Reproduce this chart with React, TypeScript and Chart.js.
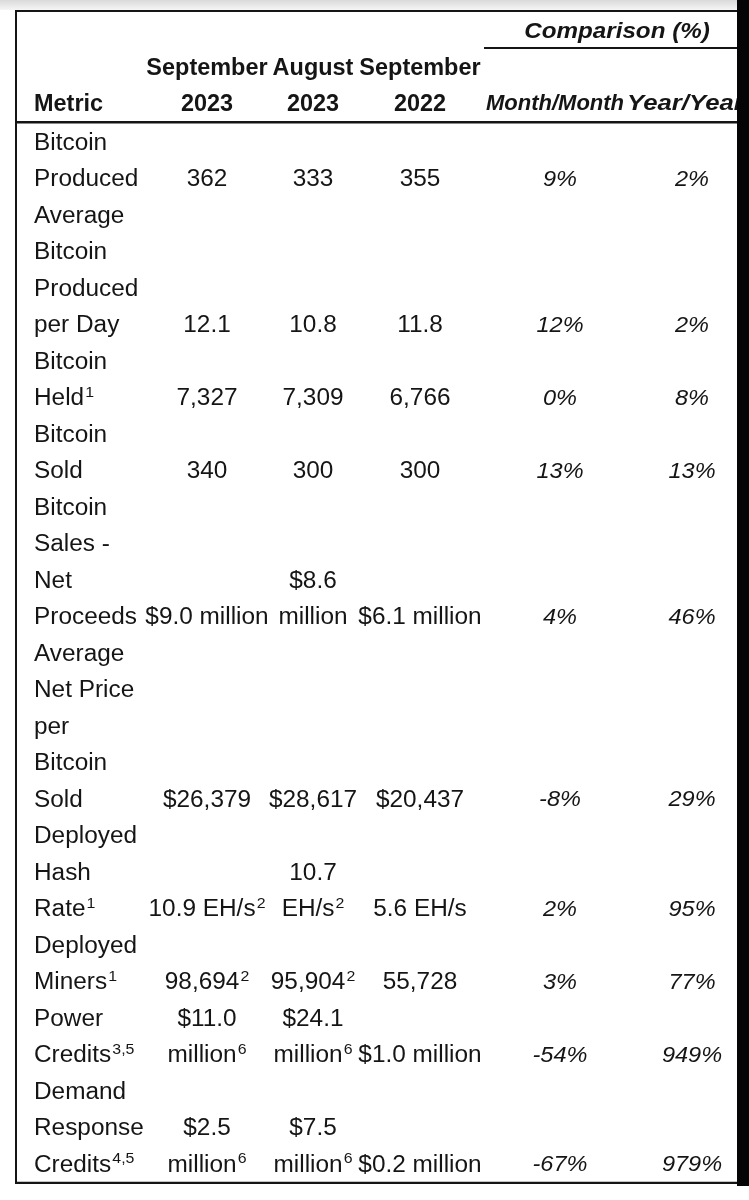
import { useEffect, useRef } from "react";
import { Chart, registerables } from "chart.js";

Chart.register(...registerables);

// ---------- data ----------
const METRICS = [
  "Bitcoin\nProduced",
  "Average\nBitcoin\nProduced\nper Day",
  "Bitcoin\nHeld^1",
  "Bitcoin\nSold",
  "Bitcoin\nSales -\nNet\nProceeds",
  "Average\nNet Price\nper\nBitcoin\nSold",
  "Deployed\nHash\nRate^1",
  "Deployed\nMiners^1",
  "Power\nCredits^3,5",
  "Demand\nResponse\nCredits^4,5",
];
const SEP_2023 = ["362", "12.1", "7,327", "340", "$9.0 million", "$26,379", "10.9 EH/s^2", "98,694^2", "$11.0\nmillion^6", "$2.5\nmillion^6"];
const AUG_2023 = ["333", "10.8", "7,309", "300", "$8.6\nmillion", "$28,617", "10.7\nEH/s^2", "95,904^2", "$24.1\nmillion^6", "$7.5\nmillion^6"];
const SEP_2022 = ["355", "11.8", "6,766", "300", "$6.1 million", "$20,437", "5.6 EH/s", "55,728", "$1.0 million", "$0.2 million"];
const MONTH_MONTH = ["9%", "12%", "0%", "13%", "4%", "-8%", "2%", "3%", "-54%", "-67%"];
const YEAR_YEAR = ["2%", "2%", "8%", "13%", "46%", "29%", "95%", "77%", "949%", "979%"];

const HEADER_GROUP = "Comparison (%)";
const HEADER_MONTHS = ["September", "August", "September"];
const HEADER_YEARS = ["2023", "2023", "2022"];
const HEADER_METRIC = "Metric";
const HEADER_COMPARE = ["Month/Month", "Year/Year"];

// ---------- layout ----------
const W = 749;
const H = 1200;
const LINE = 36.5;
const FIRST_LINE_Y = 141.5;
const Y_MIN = -FIRST_LINE_Y / LINE;
const Y_MAX = Y_MIN + H / LINE;
const COL_X = [34, 207, 313, 420, 560, 692];
const COL_ALIGN = ["left", "center", "center", "center", "center", "center"];
const COL_STYLE = ["reg", "reg", "reg", "reg", "ital", "ital"];
const HEAD_ROWS = { group: -3.06, months: -2.04, years: -1.07 };
const RULES = { top: -3.575, groupLine: -2.56, headBottom: -0.53, bottom: 28.53 };
const HEAD_X = { group: 617, mom: 555, yoy: 627, groupLeft: 484 };
const TABLE_LEFT = 16;
const STRIP_X = 737;
const STRIP_BOTTOM = 1186;

const INK = "#151515";
const FAMILY = '"Liberation Sans", Arial, Helvetica, sans-serif';
const STYLES: Record<string, { font: string; size: number; sx: number }> = {
  reg: { font: "", size: 23, sx: 1.06 },
  ital: { font: "italic ", size: 22, sx: 1.07 },
  bold: { font: "bold ", size: 23, sx: 1.02 },
  boldital: { font: "italic bold ", size: 22, sx: 1.0 },
  boldgroup: { font: "italic bold ", size: 22, sx: 1.1 },
  boldwide: { font: "italic bold ", size: 22, sx: 1.17 },
};

function drawRich(ctx: CanvasRenderingContext2D, text: string, x: number, yCenter: number, align: string, styleKey: string) {
  const st = STYLES[styleKey];
  const [main, sup] = text.split("^");
  const mainFont = `${st.font}${st.size}px ${FAMILY}`;
  const supSize = Math.round(st.size * 0.64);
  const supFont = `${st.font}${supSize}px ${FAMILY}`;
  ctx.font = mainFont;
  const mw = ctx.measureText(main).width;
  let sw = 0;
  if (sup) {
    ctx.font = supFont;
    sw = ctx.measureText(sup).width + 1;
  }
  const total = (mw + sw) * st.sx;
  let start = x;
  if (align === "center") start = x - total / 2;
  else if (align === "right") start = x - total;
  const baseline = yCenter + st.size * 0.358;
  ctx.save();
  ctx.translate(start, baseline);
  ctx.scale(st.sx, 1);
  ctx.fillStyle = INK;
  ctx.textBaseline = "alphabetic";
  ctx.textAlign = "left";
  ctx.font = mainFont;
  ctx.fillText(main, 0, 0);
  if (sup) {
    ctx.font = supFont;
    ctx.fillText(sup, mw + 1, -st.size * 0.36);
  }
  ctx.restore();
}

const tablePlugin = {
  id: "tablePlugin",
  beforeDraw(chart: any) {
    const ctx: CanvasRenderingContext2D = chart.ctx;
    ctx.save();
    ctx.fillStyle = "#ffffff";
    ctx.fillRect(0, 0, chart.width, chart.height);
    const g = ctx.createLinearGradient(0, 0, 0, 10);
    g.addColorStop(0, "#d9d9d9");
    g.addColorStop(1, "#f6f6f6");
    ctx.fillStyle = g;
    ctx.fillRect(0, 0, chart.width, 10);
    ctx.restore();
  },
  afterDatasetsDraw(chart: any) {
    const ctx: CanvasRenderingContext2D = chart.ctx;
    const ys = chart.scales.y;
    const xs = chart.scales.x;
    const px = (v: number) => xs.getPixelForValue(v);
    const py = (v: number) => ys.getPixelForValue(v);

    // rules
    ctx.save();
    ctx.strokeStyle = INK;
    const hline = (row: number, x0: number, x1: number, w: number) => {
      ctx.lineWidth = w;
      ctx.beginPath();
      ctx.moveTo(px(x0), py(row));
      ctx.lineTo(px(x1), py(row));
      ctx.stroke();
    };
    hline(RULES.top, TABLE_LEFT - 1, W, 2);
    hline(RULES.groupLine, HEAD_X.groupLeft, W, 2);
    hline(RULES.headBottom, TABLE_LEFT - 1, W, 2.5);
    hline(RULES.bottom, TABLE_LEFT - 1, W, 2.2);
    ctx.lineWidth = 2;
    ctx.beginPath();
    ctx.moveTo(px(TABLE_LEFT), py(RULES.top));
    ctx.lineTo(px(TABLE_LEFT), py(RULES.bottom));
    ctx.stroke();
    ctx.restore();

    // header
    drawRich(ctx, HEADER_GROUP, px(HEAD_X.group), py(HEAD_ROWS.group), "center", "boldgroup");
    HEADER_MONTHS.forEach((t, i) => drawRich(ctx, t, px(COL_X[i + 1]), py(HEAD_ROWS.months), "center", "bold"));
    drawRich(ctx, HEADER_METRIC, px(COL_X[0]), py(HEAD_ROWS.years), "left", "bold");
    HEADER_YEARS.forEach((t, i) => drawRich(ctx, t, px(COL_X[i + 1]), py(HEAD_ROWS.years), "center", "bold"));
    drawRich(ctx, HEADER_COMPARE[0], px(HEAD_X.mom), py(HEAD_ROWS.years), "center", "boldital");
    drawRich(ctx, HEADER_COMPARE[1], px(HEAD_X.yoy), py(HEAD_ROWS.years), "left", "boldwide");

    // cells: each anchored at its row's last line; extra lines stacked upward
    chart.data.datasets.forEach((ds: any, di: number) => {
      const meta = chart.getDatasetMeta(di);
      meta.data.forEach((el: any, i: number) => {
        const raw = ds.data[i];
        const lines = String(raw.text).split("\n");
        lines.forEach((ln: string, k: number) => {
          const row = raw.y - (lines.length - 1 - k);
          drawRich(ctx, ln, el.x, ys.getPixelForValue(row), COL_ALIGN[di], COL_STYLE[di]);
        });
      });
    });

    // dark strip at right edge
    ctx.save();
    ctx.fillStyle = "#050505";
    ctx.fillRect(STRIP_X, 0, W - STRIP_X, STRIP_BOTTOM);
    ctx.restore();
  },
};

export default function App() {
  const ref = useRef<HTMLCanvasElement | null>(null);
  useEffect(() => {
    document.body.style.margin = "0";
    const canvas = ref.current;
    if (!canvas) return;
    const rowEnds: number[] = [];
    let acc = -1;
    METRICS.forEach((m) => {
      acc += m.split("\n").length;
      rowEnds.push(acc);
    });
    const columns = [METRICS, SEP_2023, AUG_2023, SEP_2022, MONTH_MONTH, YEAR_YEAR];
    const datasets = columns.map((col, c) => ({
      label: `col${c}`,
      data: col.map((text, i) => ({ x: COL_X[c], y: rowEnds[i], text })),
      pointRadius: 0,
      showLine: false,
    }));
    const chart = new Chart(canvas, {
      type: "scatter",
      data: { datasets },
      options: {
        animation: false,
        responsive: false,
        devicePixelRatio: 1,
        events: [],
        layout: { padding: 0 },
        plugins: { legend: { display: false }, tooltip: { enabled: false }, title: { display: false } },
        scales: {
          x: { type: "linear", min: 0, max: W, display: false },
          y: { type: "linear", min: Y_MIN, max: Y_MAX, reverse: true, display: false },
        },
      },
      plugins: [tablePlugin],
    } as any);
    return () => chart.destroy();
  }, []);
  return (
    <div style={{ position: "absolute", left: 0, top: 0, width: W, height: H }}>
      <canvas ref={ref} width={W} height={H} style={{ display: "block", width: W, height: H }} />
    </div>
  );
}
